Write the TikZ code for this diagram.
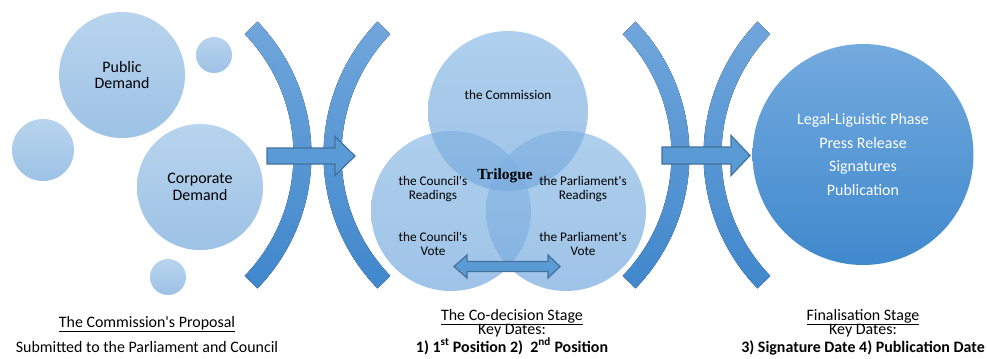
\documentclass[tikz,border=0pt]{standalone}
\usepackage{fontspec}
\setmainfont{Carlito}
\newfontfamily\trilogfont{Liberation Serif}
\usetikzlibrary{calc}

\definecolor{bubbleTop}{RGB}{184,212,238}
\definecolor{bubbleBot}{RGB}{157,194,229}
\definecolor{vennTop}{RGB}{140,187,229}
\definecolor{vennBot}{RGB}{118,170,222}
\definecolor{bandTop}{RGB}{112,166,220}
\definecolor{bandBot}{RGB}{64,135,204}
\definecolor{finalTop}{RGB}{115,170,222}
\definecolor{finalBot}{RGB}{64,137,205}
\definecolor{blockFill}{RGB}{91,155,213}
\definecolor{blockEdge}{RGB}{65,113,156}

\newcommand{\apos}{\textquotesingle}

\tikzset{
  bubble/.style={circle, inner sep=0pt, shade, top color=bubbleTop,
    bottom color=bubbleBot, align=center, text=black,
    font=\fontsize{16}{17}\selectfont},
  venn/.style={circle, inner sep=0pt, minimum size=160bp, shade,
    top color=vennTop, bottom color=vennBot, fill opacity=0.7},
  venntext/.style={align=center, text=black, inner sep=0pt,
    font=\fontsize{13.3}{14}\selectfont},
  band/.style={shade, top color=bandTop, bottom color=bandBot},
  block/.style={fill=blockFill, draw=blockEdge, line width=1.2bp,
    line join=miter},
  caption/.style={text=black, inner sep=0pt, anchor=base,
    font=\fontsize{16}{15}\selectfont},
}

% annular band: centre, first angle, last angle
\newcommand{\drawband}[3]{%
  \fill[band] ($(#1)+(#2:192)$) arc[start angle=#2, end angle=#3, radius=192]
    -- ($(#1)+(#3:174)$) arc[start angle=#3, end angle=#2, radius=174] -- cycle;}

\begin{document}
\begin{tikzpicture}[x=1bp, y=-1bp]
\useasboundingbox (0,0) rectangle (987,358);

% proposal bubbles
\node[bubble, minimum size=126bp] (public) at (122,75) {Public\\Demand};
\node[bubble, minimum size=126bp] (corporate) at (200,187) {Corporate\\Demand};
\node[bubble, minimum size=36bp] (dotA) at (214,55) {};
\node[bubble, minimum size=62bp] (dotB) at (43,150) {};
\node[bubble, minimum size=36bp] (dotC) at (168,277) {};

% bracket bands
\coordinate (c1) at (119.5,155);
\coordinate (c2) at (515.5,155);
\coordinate (c3) at (497.5,155);
\coordinate (c4) at (895.5,155);
\drawband{c1}{-44}{44}
\drawband{c2}{136}{224}
\drawband{c3}{-44}{44}
\drawband{c4}{136}{224}

% co-decision circles
\node[venn] (council) at (451,211) {};
\node[venn] (parliament) at (566,211) {};
\node[venn] (commission) at (508,111) {};

\node[venntext] (tCommission) at (508,95) {the Commission};
\node[venntext] (tCouncilR) at (433,189) {the Council\apos s\\Readings};
\node[venntext] (tParlR) at (583,189) {the Parliament\apos s\\Readings};
\node[venntext] (tCouncilV) at (433,244) {the Council\apos s\\Vote};
\node[venntext] (tParlV) at (583,244) {the Parliament\apos s\\Vote};
\node[text=black, inner sep=0pt, font=\trilogfont\bfseries\fontsize{15.5}{17}\selectfont]
  (trilogue) at (505,176) {Trilogue};

% finalisation circle
\node[circle, inner sep=0pt, minimum size=221bp, shade, top color=finalTop,
  bottom color=finalBot, text=white, align=center,
  font=\fontsize{16}{24}\selectfont] (final) at (863,154.5)
  {Legal-Liguistic Phase\\Press Release\\Signatures\\Publication};

% block arrows
\draw[block] (267,148) -- (335,148) -- (335,136.5) -- (355,156) -- (335,175.5)
  -- (335,164) -- (267,164) -- cycle;
\draw[block] (662,147) -- (731,147) -- (731,135.5) -- (750,155.5) -- (731,175.5)
  -- (731,164) -- (662,164) -- cycle;
\draw[block] (454,266.5) -- (467,255) -- (467,261.5) -- (548,261.5) -- (548,255)
  -- (560,266.5) -- (548,278) -- (548,271.5) -- (467,271.5) -- (467,278) -- cycle;

% captions (placed on their baselines)
\node[caption] (propTitle) at (147,327) {\underline{The Commission\apos s Proposal}};
\node[caption] (propSub) at (147,352) {Submitted to the Parliament and Council};
\node[caption] (codecTitle) at (512,320) {\underline{The Co-decision Stage}};
\node[caption] (codecKey) at (512,334.5) {Key Dates:};
\node[caption] (codecDates) at (512,352) {\textbf{1) 1\textsuperscript{st} Position 2)~ 2\textsuperscript{nd} Position}};
\node[caption] (finalTitle) at (863,320) {\underline{Finalisation Stage}};
\node[caption] (finalKey) at (863,334.5) {Key Dates:};
\node[caption] (finalDates) at (863,352) {\textbf{3) Signature Date 4) Publication Date}};
\end{tikzpicture}
\end{document}
